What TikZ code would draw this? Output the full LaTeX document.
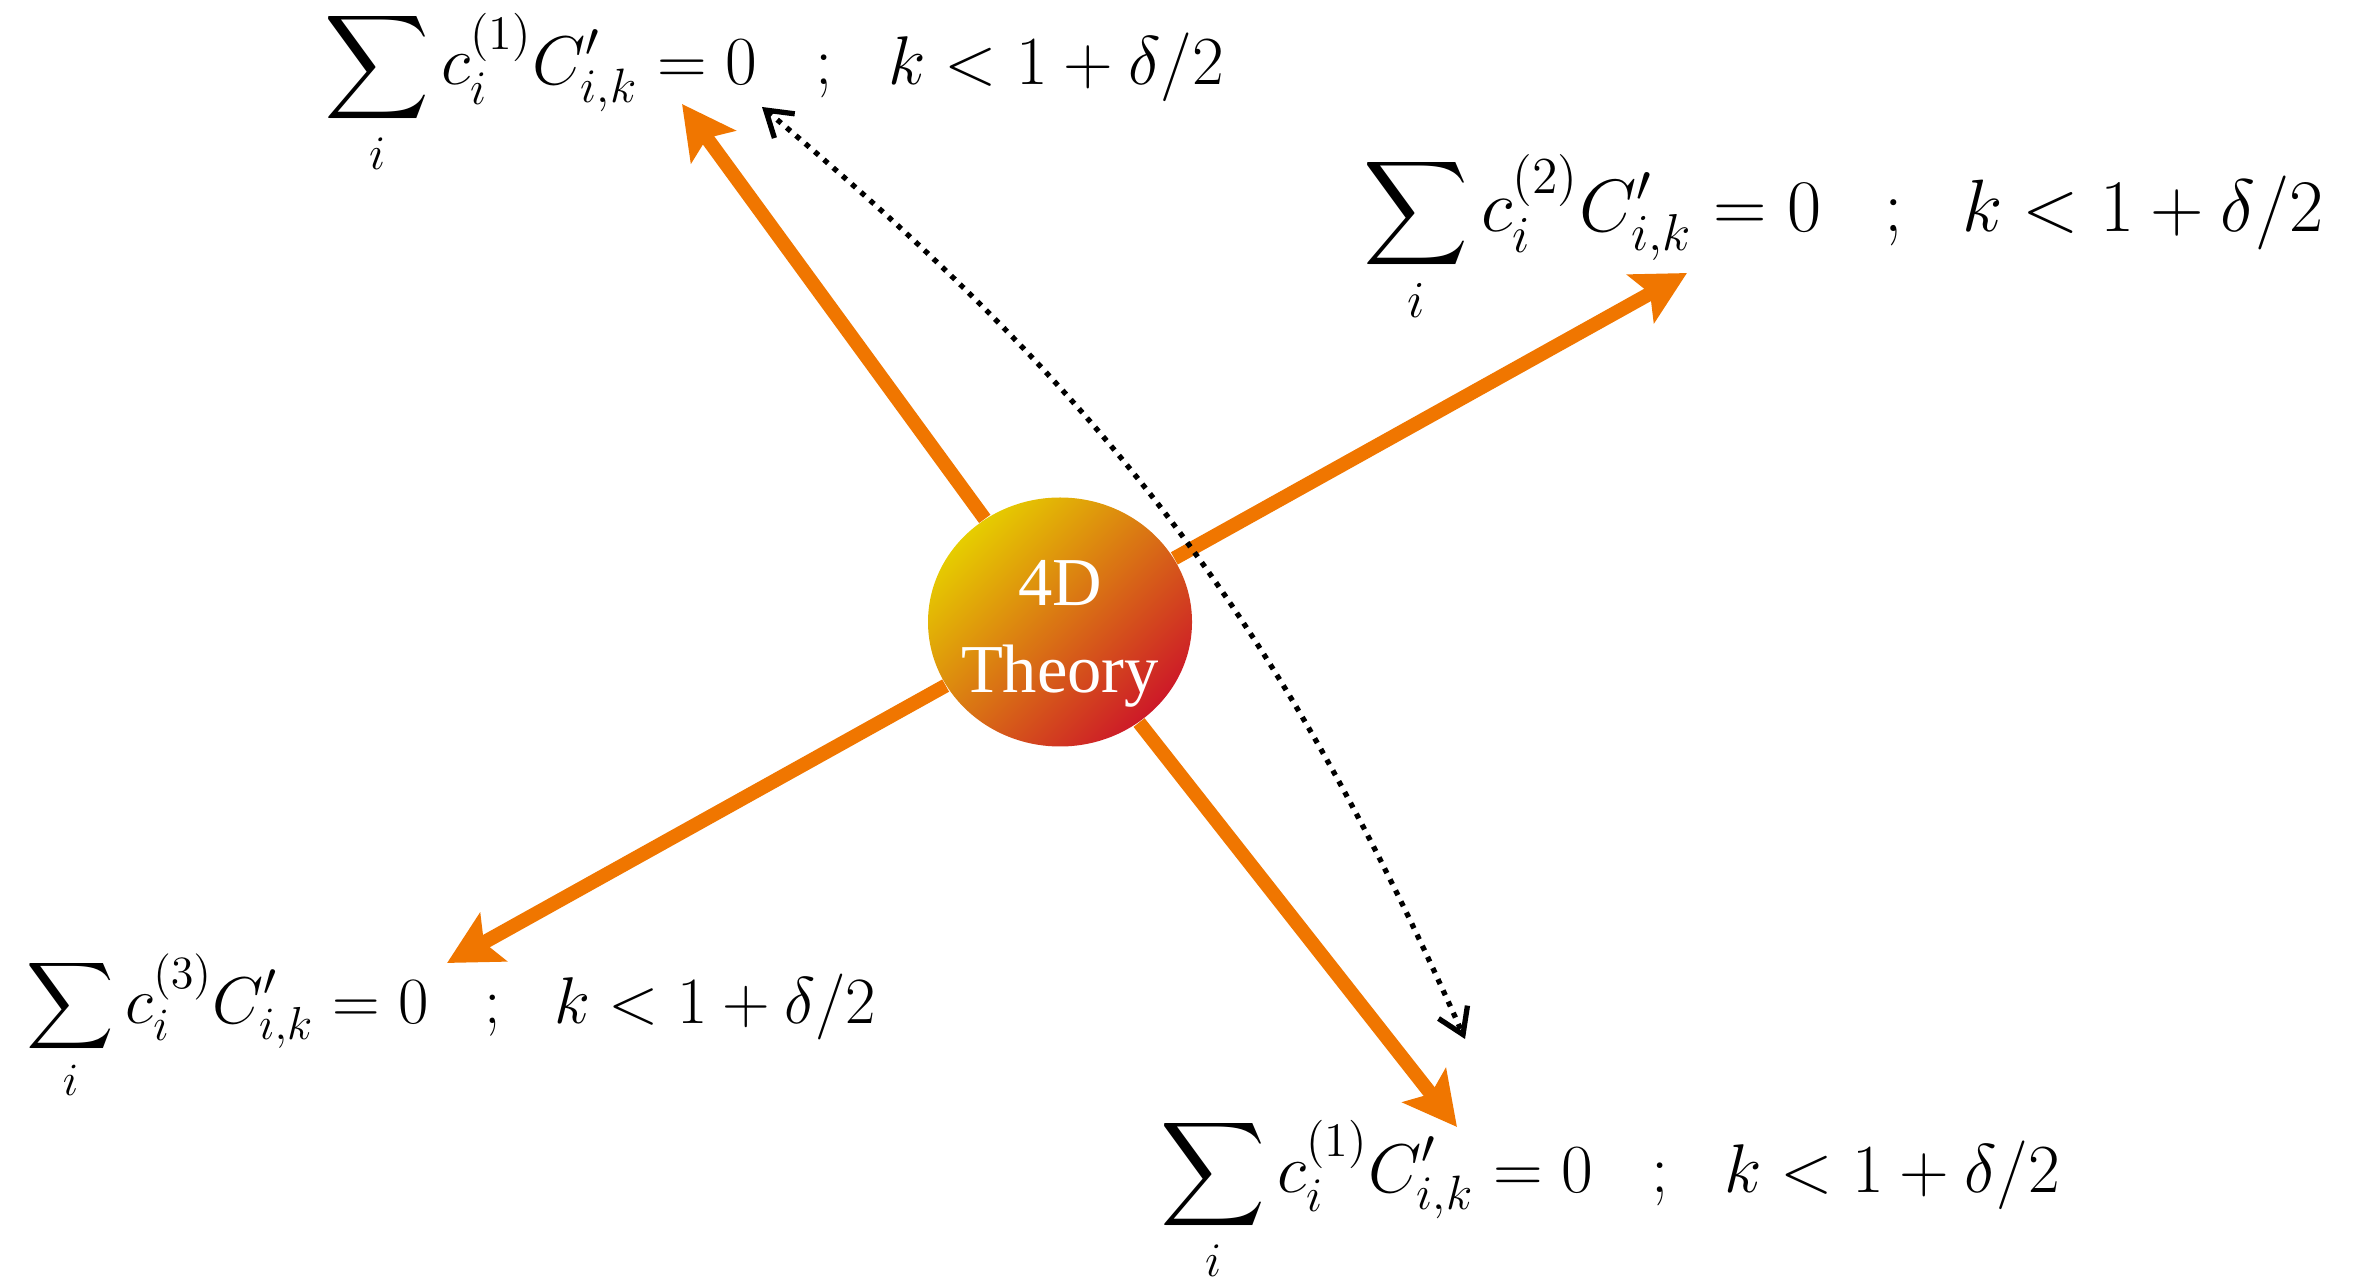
\RequirePackage{fix-cm}
\documentclass[tikz,border=0pt]{standalone}
\usepackage{exscale}
\usepackage{fontspec}
\usetikzlibrary{arrows.meta,shapes.geometric}
\newfontfamily\ballfont{Liberation Serif}
\definecolor{rayorange}{RGB}{240,118,0}
\definecolor{ballyellow}{RGB}{230,205,0}
\definecolor{ballorange}{RGB}{226,124,0}
\definecolor{ballred}{RGB}{205,25,40}
\newcommand{\constr}[1]{$\displaystyle\sum_i c_i^{(#1)}C'_{i,k}=0\hspace{0.85em}{;}\hspace{0.8em}k<1+\delta/2$}
\begin{document}
\begin{tikzpicture}[
  ray/.style={draw=rayorange, line width=4pt, -{Stealth[length=15pt, width=15.5pt, inset=3pt]}},
  link/.style={dotted, line width=1.5pt, {Straight Barb[length=7pt, width=9pt]}-{Straight Barb[length=7pt, width=9pt]}},
  eqn/.style={inner sep=0pt, anchor=base west}
]
\useasboundingbox (0,0) rectangle (23.59,-12.77);
\node[ellipse, minimum width=2.64cm, minimum height=2.49cm, inner sep=0pt,
      top color=ballyellow, middle color=ballorange, bottom color=ballred, shading angle=45] (ball) at (10.60,-6.22) {};
\node[align=center, inner sep=0pt, text=white, font=\ballfont\fontsize{19.5}{24.7}\selectfont] (name) at ([yshift=-0.12cm]ball.center) {4D\\Theory};
\node[eqn, font=\fontsize{19.6}{24}\selectfont] (eq1) at (3.24,-0.85) {\constr{1}};
\node[eqn, font=\fontsize{21.1}{25}\selectfont] (eq2) at (13.63,-2.32) {\constr{2}};
\node[eqn, font=\fontsize{18.8}{23}\selectfont] (eq3) at (0.26,-10.23) {\constr{3}};
\node[eqn, font=\fontsize{19.6}{24}\selectfont] (eq4) at (11.60,-11.92) {\constr{1}};
\coordinate (tip1) at (6.82,-1.04);
\coordinate (tip2) at (16.87,-2.73);
\coordinate (tip3) at (4.47,-9.63);
\coordinate (tip4) at (14.57,-11.27);
\coordinate (top) at (7.62,-1.07);
\coordinate (bottom) at (14.65,-10.39);
\draw[ray] (ball) -- (tip1);
\draw[ray] (ball) -- (tip2);
\draw[ray] (ball) -- (tip3);
\draw[ray] (ball) -- (tip4);
\draw[link] (top) to[bend left=13] (bottom);
\end{tikzpicture}
\end{document}
